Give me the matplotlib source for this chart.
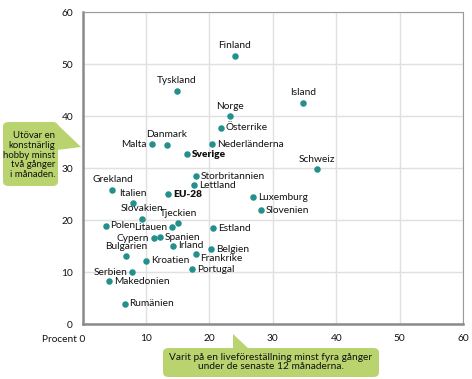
import matplotlib
matplotlib.use("Agg")
import matplotlib.pyplot as plt
from matplotlib.patches import FancyBboxPatch, Polygon

# Scatter data: x = attended a live performance at least four times in 12 months,
# y = practises an artistic hobby at least twice a month (percent).
countries = ['Finland', 'Tyskland', 'Island', 'Norge', 'Österrike', 'Malta',
             'Danmark', 'Nederländerna', 'Sverige', 'Schweiz', 'Storbritannien',
             'Lettland', 'Grekland', 'EU-28', 'Italien', 'Luxemburg', 'Slovenien',
             'Slovakien', 'Tjeckien', 'Polen', 'Litauen', 'Estland', 'Cypern',
             'Spanien', 'Irland', 'Belgien', 'Frankrike', 'Bulgarien', 'Kroatien',
             'Portugal', 'Serbien', 'Makedonien', 'Rumänien']
live = [24.0, 14.9, 34.8, 23.3, 21.8, 10.9, 13.3, 20.4, 16.5, 36.9, 17.9,
        17.6, 4.7, 13.5, 7.9, 26.9, 28.1, 9.4, 15.1, 3.6, 14.1, 20.6, 11.2,
        12.2, 14.3, 20.3, 17.8, 6.9, 10.0, 17.3, 7.8, 4.2, 6.6]
hobby = [51.6, 44.9, 42.6, 40.0, 37.8, 34.6, 34.5, 34.6, 32.7, 29.8, 28.4,
         26.7, 25.8, 25.0, 23.2, 24.4, 21.9, 20.3, 19.4, 18.9, 18.6, 18.4, 16.5,
         16.7, 15.1, 14.4, 13.5, 13.0, 12.2, 10.5, 10.0, 8.2, 3.9]
bold_labels = ['Sverige', 'EU-28']

xticks = [0, 10, 20, 30, 40, 50, 60]
yticks = [0, 10, 20, 30, 40, 50, 60]

# where each label sits relative to its dot
above = {'Finland', 'Tyskland', 'Island', 'Norge', 'Danmark', 'Schweiz',
         'Grekland', 'Italien', 'Slovakien', 'Tjeckien', 'Bulgarien'}
left = {'Malta', 'Litauen', 'Cypern', 'Serbien'}

W, H = 472, 379
DOT = '#24908e'
GREEN = '#b9d36e'
FS = 7.3

plt.rcParams['font.family'] = ['Lato', 'DejaVu Sans']

fig = plt.figure(figsize=(W / 100, H / 100), dpi=100)
ax = fig.add_axes([82.7 / W, 1 - 324 / H, (463 - 82.7) / W, (324 - 12.3) / H])

ax.scatter(live, hobby, s=22, color=DOT, zorder=3, linewidths=0)

for name, x, y in zip(countries, live, hobby):
    weight = 'heavy' if name in bold_labels else 'normal'
    if name in above:
        off, ha, va = (0, 4), 'center', 'bottom'
    elif name in left:
        off, ha, va = (-3.5, 0), 'right', 'center'
    elif name == 'Frankrike':
        off, ha, va = (3.5, -3), 'left', 'center'
    else:
        off, ha, va = (3.5, 0), 'left', 'center'
    ax.annotate(name, (x, y), xytext=off, textcoords='offset points',
                ha=ha, va=va, fontsize=FS, fontweight=weight, color='#111111')

ax.set_xlim(0, 60)
ax.set_ylim(0, 60)
ax.set_xticks(xticks)
ax.set_yticks(yticks)
ax.set_xticklabels(['' if t == 0 else str(t) for t in xticks])
ax.tick_params(length=0, labelsize=FS, colors='#111111', pad=7)
ax.grid(True, color='#e0e0e0', linewidth=1)
ax.set_axisbelow(True)

for side in ['left', 'bottom']:
    ax.spines[side].set_color('#8a8a8a')
    ax.spines[side].set_linewidth(1.8)
for side in ['top', 'right']:
    ax.spines[side].set_color('#9a9a9a')
    ax.spines[side].set_linewidth(0.8)

fig.text(85 / W, 1 - 339 / H, 'Procent 0', ha='right', va='center', fontsize=FS, color='#111111')


def px(x, y):
    return (x / W, 1 - y / H)


# left callout
box = FancyBboxPatch(px(3, 186), 55 / W, 64 / H, boxstyle='round,pad=0,rounding_size=0.012',
                     transform=fig.transFigure, facecolor=GREEN, edgecolor='none')
fig.patches.append(box)
fig.patches.append(Polygon([px(57, 124), px(57, 150), px(81, 147)], closed=True,
                           transform=fig.transFigure, facecolor=GREEN, edgecolor='none'))
fig.text(55 / W, 1 - 155 / H, 'Utövar en\nkonstnärlig\nhobby minst\ntvå gånger\ni månaden.',
         ha='right', va='center', fontsize=6.9, linespacing=1.12, color='#111111')

# bottom callout
box2 = FancyBboxPatch(px(163, 377), 216 / W, 29 / H, boxstyle='round,pad=0,rounding_size=0.012',
                      transform=fig.transFigure, facecolor=GREEN, edgecolor='none')
fig.patches.append(box2)
fig.patches.append(Polygon([px(233, 334), px(233, 350), px(250, 350)], closed=True,
                           transform=fig.transFigure, facecolor=GREEN, edgecolor='none'))
fig.text(271 / W, 1 - 362 / H,
         'Varit på en liveföreställning minst fyra gånger\nunder de senaste 12 månaderna.',
         ha='center', va='center', fontsize=FS, linespacing=1.1, color='#111111')

fig.savefig('out.png', dpi=100)
